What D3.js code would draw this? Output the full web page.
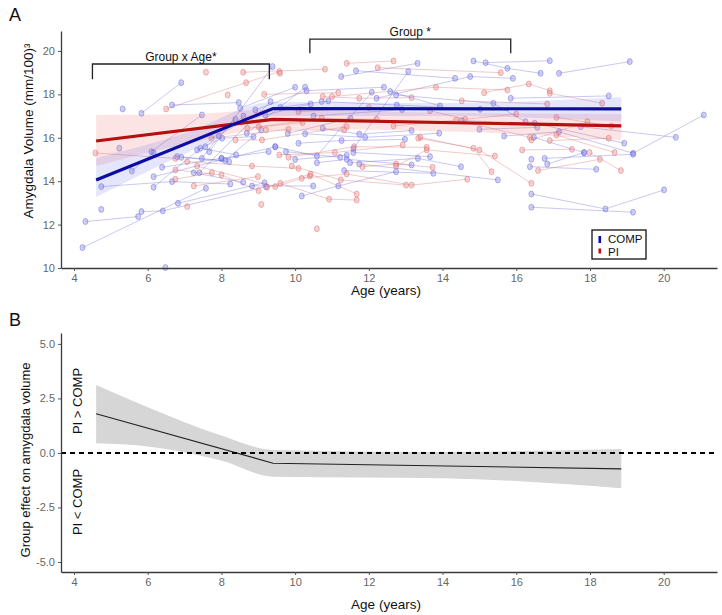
<!DOCTYPE html>
<html><head><meta charset="utf-8">
<script src="https://cdn.jsdelivr.net/npm/d3@7"></script>
<style>
body{margin:0;background:#fff;}
text{font-family:"Liberation Sans",Arial,sans-serif;}
</style></head>
<body><svg id="c" width="722" height="615"></svg>
<script>
// ---------- DATA ----------
const ageTicks = [4, 6, 8, 10, 12, 14, 16, 18, 20];
const volTicks = [10, 12, 14, 16, 18, 20];
const effTicks = [-5, -2.5, 0, 2.5, 5];
const effTickLabels = ["-5.0", "-2.5", "0.0", "2.5", "5.0"];
const groups = ["COMP", "PI"];

// individual trajectories [age, volume]
const compSubjects = [
  [[4.23,10.94],[7.58,13.67]],
  [[4.31,12.14],[5.74,12.37]],
  [[5.83,12.6],[6.41,12.63],[9.21,13.75]],
  [[4.74,13.75],[6.66,13.98],[8.24,13.87]],
  [[4.74,12.7]],
  [[6.48,10.02]],
  [[5.83,17.13],[6.91,18.54]],
  [[5.32,17.33]],
  [[5.23,15.52]],
  [[5.57,14.47],[6.16,15.32]],
  [[6.16,13.72],[8.38,16.85]],
  [[6.16,14.21],[9.46,15.59]],
  [[6.82,12.98],[9.17,13.93]],
  [[6.39,14.64],[8.0,15.05]],
  [[6.1,15.36],[7.47,17.05]],
  [[6.66,17.51],[8.47,17.62]],
  [[6.8,15.13],[8.1,14.95],[9.08,16.36]],
  [[6.91,15.1],[8.21,14.9]],
  [[7.25,14.39],[8.59,13.95]],
  [[7.4,14.39],[9.33,17.67]],
  [[7.34,15.44],[8.02,15.98],[8.87,16.05]],
  [[7.43,15.52],[8.4,15.21]],
  [[7.56,15.59],[8.6,17.0]],
  [[7.47,15.05],[7.93,16.08]],
  [[8.0,15.05],[9.28,15.36]],
  [[8.51,17.36],[10.0,18.33]],
  [[8.69,16.21],[10.27,18.33]],
  [[8.83,13.78],[10.49,13.78]],
  [[8.92,17.28],[10.31,18.17],[12.41,18.33]],
  [[9.19,17.05],[10.42,17.56]],
  [[7.67,15.36],[9.39,19.28]],
  [[9.46,15.59],[10.59,15.16],[12.08,18.1]],
  [[9.75,15.36],[11.22,15.1]],
  [[10.18,13.32],[11.17,13.78],[12.74,14.44]],
  [[10.59,14.85],[11.4,15.01],[13.16,14.75]],
  [[11.33,14.49],[13.75,14.36]],
  [[11.49,14.85],[13.33,15.05],[14.5,14.67]],
  [[11.58,15.32],[13.66,15.13]],
  [[11.74,14.79],[15.5,14.06]],
  [[10.72,17.67],[12.76,17.51],[15.02,17.31]],
  [[10.75,16.44],[11.74,16.17],[13.16,16.33]],
  [[10.09,15.75],[11.26,15.87],[12.98,15.93]],
  [[10.27,16.18],[11.9,16.02],[13.91,16.21]],
  [[11.25,18.82],[13.32,19.43]],
  [[11.58,15.5],[13.07,19.05]],
  [[11.65,19.09],[14.34,18.74]],
  [[12.21,17.82],[14.75,18.82],[15.91,18.74]],
  [[12.58,18.13],[13.93,17.47]],
  [[12.74,17.97],[15.38,17.59],[16.25,16.74]],
  [[14.84,19.54],[15.76,19.2],[16.66,18.97]],
  [[15.17,19.46],[16.91,19.55]],
  [[17.16,18.97],[19.08,19.51]],
  [[15.85,17.82],[18.51,17.93]],
  [[14.52,16.79],[16.5,16.67],[18.93,15.75]],
  [[15.0,16.39],[16.57,16.48]],
  [[15.67,16.08],[17.16,16.28],[19.17,15.29],[21.09,17.05]],
  [[17.75,16.51],[20.33,16.02]],
  [[16.48,16.02],[17.84,15.31]],
  [[16.84,14.79],[17.84,15.32]],
  [[16.37,14.67],[18.17,14.55]],
  [[16.41,15.01]],
  [[16.77,15.05],[19.17,15.24]],
  [[16.41,13.41],[18.42,12.72],[20.01,13.6]],
  [[16.41,12.8],[19.17,12.57]],
  [[9.6,17.4],[10.9,17.7]],
  [[9.8,16.2],[11.5,16.9]],
  [[10.5,17.0],[12.9,17.3]],
  [[10.0,15.0],[11.4,15.2]]
];
const piSubjects = [
  [[4.58,15.3],[6.75,15.05]],
  [[6.5,17.33],[8.67,18.54],[9.57,19.05]],
  [[7.58,19.02]],
  [[8.59,19.02],[10.81,19.16]],
  [[11.4,19.43],[12.67,19.54]],
  [[8.17,17.97]],
  [[9.16,18.0],[11.17,18.08]],
  [[6.75,14.52],[8.0,14.29],[9.01,13.56]],
  [[6.75,14.09],[7.74,14.39]],
  [[7.07,12.83]],
  [[7.07,14.9],[8.83,14.7],[10.09,14.59]],
  [[7.25,13.78],[8.99,14.21]],
  [[7.34,14.7],[9.46,13.75],[10.4,14.24]],
  [[9.08,12.93]],
  [[9.24,13.72],[10.42,14.33],[11.67,13.41]],
  [[9.6,13.9],[10.92,13.17],[11.67,13.13]],
  [[9.01,16.51],[10.72,16.9],[12.21,16.85]],
  [[9.21,16.36],[11.33,16.36]],
  [[7.73,15.98],[9.82,16.39]],
  [[8.38,15.9],[9.1,15.9],[11.4,16.51]],
  [[9.57,15.21],[11.08,15.32],[12.92,15.67]],
  [[9.82,15.1],[11.6,15.59],[13.57,15.56]],
  [[9.91,14.7],[11.24,14.06],[13.01,13.82]],
  [[10.18,14.13],[11.4,14.33],[13.16,13.82],[14.67,14.09]],
  [[10.59,11.81]],
  [[11.83,14.67],[12.74,14.79],[13.73,14.64]],
  [[12.74,14.7],[13.57,15.44],[15.42,15.16]],
  [[13.34,15.98],[14.84,15.52],[15.33,14.44]],
  [[13.4,16.02],[15.0,15.44],[16.41,13.9]],
  [[12.67,16.54],[14.37,16.82],[16.37,16.02]],
  [[13.66,17.25],[14.61,16.85],[16.0,17.1]],
  [[12.24,19.23],[15.58,19.0]],
  [[10.75,17.9],[11.74,17.82],[13.16,17.85]],
  [[11.0,17.9],[13.82,18.33],[15.76,18.2]],
  [[14.52,17.7],[16.84,17.56]],
  [[15.13,18.08],[16.34,18.48],[16.91,18.17]],
  [[16.91,18.05],[18.33,17.59]],
  [[16.41,15.9],[17.93,16.74]],
  [[16.91,15.87],[18.51,15.98]],
  [[17.09,16.13],[18.67,15.32]],
  [[16.16,15.44],[17.51,15.47]],
  [[16.59,14.49],[18.27,15.01]],
  [[17.99,15.32],[18.84,14.49]],
  [[9.59,18.97]],
  [[10.09,17.2],[12.0,17.4]],
  [[8.7,16.44],[10.2,16.7]],
  [[17.09,16.94],[18.58,16.54]]
];

// model fits
const fitAge = [4.6, 9.4, 18.85];
const compFit = [14.05, 17.35, 17.33];
const piFit = [15.85, 16.85, 16.55];
const ribAge = [4.6, 7.0, 9.4, 14.0, 18.85];
const compLo = [13.27, 15.25, 17.0, 17.0, 16.75];
const compHi = [15.07, 16.2, 17.65, 17.6, 17.88];
const piLo = [14.7, 15.7, 16.4, 16.3, 15.9];
const piHi = [17.05, 17.08, 17.3, 17.15, 17.1];

// group effect (panel B)
const effAge = [4.6, 9.4, 18.85];
const effFit = [1.8, -0.47, -0.73];
const effRibAge = [4.6, 6, 8, 9.4, 14, 18.85];
const effHi = [3.12, 2.1, 0.8, 0.14, 0.05, 0.18];
const effLo = [0.44, 0.3, -0.35, -1.09, -1.16, -1.62];

// annotations
const brackets = [
  {label: "Group x Age*", from: 4.5, to: 9.3, top: 19.4, bottom: 18.7},
  {label: "Group *", from: 10.4, to: 15.85, top: 20.55, bottom: 19.9}
];

// ---------- DRAW ----------
const svg = d3.select("#c");
const x = d3.scaleLinear().domain([3.647, 21.447]).range([61, 717]);
const yA = d3.scaleLinear().domain([10, 20.92]).range([268, 31]);
const yB = d3.scaleLinear().domain([-5.46, 5.5]).range([572, 333]);

const col = {
  COMP: {line: "rgba(95,95,215,0.34)", fill: "rgba(125,125,232,0.36)", stroke: "rgba(95,95,212,0.55)",
         fit: "#0c0ca2", rib: "rgba(100,100,235,0.17)"},
  PI:   {line: "rgba(215,100,100,0.34)", fill: "rgba(235,130,130,0.36)", stroke: "rgba(215,100,100,0.55)",
         fit: "#b50f0f", rib: "rgba(240,110,110,0.19)"}
};

function styleAxis(g) {
  g.select(".domain").attr("stroke", "#3a3a3a").attr("stroke-width", 1.3);
  g.selectAll(".tick line").attr("stroke", "#555").attr("stroke-width", 1);
  g.selectAll(".tick text").attr("fill", "#666").style("font-size", "11px")
    .style("font-family", '"Liberation Sans",Arial,sans-serif');
}

// ----- Panel A -----
const pA = svg.append("g");
const lineA = d3.line().x(d => x(d[0])).y(d => yA(d[1]));
[["COMP", compSubjects], ["PI", piSubjects]].forEach(([g, subs]) => {
  pA.append("g").selectAll("path").data(subs.filter(s => s.length > 1)).join("path")
    .attr("d", lineA).attr("fill", "none").attr("stroke", col[g].line).attr("stroke-width", 1);
});
[["COMP", compSubjects], ["PI", piSubjects]].forEach(([g, subs]) => {
  pA.append("g").selectAll("ellipse").data(subs.flat()).join("ellipse")
    .attr("cx", d => x(d[0])).attr("cy", d => yA(d[1])).attr("rx", 2.5).attr("ry", 3)
    .attr("fill", col[g].fill).attr("stroke", col[g].stroke).attr("stroke-width", 0.8);
});
const areaA = (lo, hi) => d3.area().curve(d3.curveMonotoneX)
  .x((d, i) => x(ribAge[i])).y0((d, i) => yA(lo[i])).y1((d, i) => yA(hi[i]))(ribAge);
pA.append("path").attr("d", areaA(piLo, piHi)).attr("fill", col.PI.rib);
pA.append("path").attr("d", areaA(compLo, compHi)).attr("fill", col.COMP.rib);
const fitLine = vals => d3.line().x((d, i) => x(fitAge[i])).y((d, i) => yA(vals[i]))(fitAge);
pA.append("path").attr("d", fitLine(piFit)).attr("fill", "none").attr("stroke", col.PI.fit).attr("stroke-width", 3.2);
pA.append("path").attr("d", fitLine(compFit)).attr("fill", "none").attr("stroke", col.COMP.fit).attr("stroke-width", 3.2);

// brackets
brackets.forEach(b => {
  pA.append("path")
    .attr("d", `M${x(b.from)},${yA(b.bottom)}V${yA(b.top)}H${x(b.to)}V${yA(b.bottom)}`)
    .attr("fill", "none").attr("stroke", "#222").attr("stroke-width", 1.3);
  pA.append("text").attr("x", (x(b.from) + x(b.to)) / 2).attr("y", yA(b.top) - 3)
    .attr("text-anchor", "middle").style("font-size", "12px").attr("fill", "#111").text(b.label);
});

// axes A
pA.append("g").attr("transform", "translate(0,268)")
  .call(d3.axisBottom(x).tickValues(ageTicks).tickSize(3).tickSizeOuter(0).tickPadding(3)).call(styleAxis);
pA.append("g").attr("transform", "translate(61,0)")
  .call(d3.axisLeft(yA).tickValues(volTicks).tickSize(3).tickSizeOuter(0).tickPadding(3)).call(styleAxis);

pA.append("text").attr("x", 386).attr("y", 295).attr("text-anchor", "middle")
  .style("font-size", "13.5px").attr("fill", "#111").text("Age (years)");
pA.append("text").attr("transform", "translate(33,131) rotate(-90)").attr("text-anchor", "middle")
  .style("font-size", "13.5px").attr("fill", "#111").text("Amygdala Volume (mm/100)³");
svg.append("text").attr("x", 9).attr("y", 21).style("font-size", "18px").attr("fill", "#111").text("A");

// legend
const lg = pA.append("g");
lg.append("rect").attr("x", 592).attr("y", 230).attr("width", 54).attr("height", 29)
  .attr("fill", "#fff").attr("stroke", "#111").attr("stroke-width", 1.3);
groups.forEach((g, i) => {
  lg.append("rect").attr("x", 598.5).attr("y", 236 + i * 12.5).attr("width", 2.6).attr("height", i === 0 ? 7 : 5)
    .attr("fill", col[g].fit);
  lg.append("text").attr("x", 608).attr("y", 243 + i * 12.5).style("font-size", "11.5px").attr("fill", "#111").text(g);
});

// ----- Panel B -----
const pB = svg.append("g");
pB.append("path")
  .attr("d", d3.area().curve(d3.curveMonotoneX)
    .x((d, i) => x(effRibAge[i])).y0((d, i) => yB(effLo[i])).y1((d, i) => yB(effHi[i]))(effRibAge))
  .attr("fill", "#d6d6d6");
pB.append("path")
  .attr("d", d3.line().x((d, i) => x(effAge[i])).y((d, i) => yB(effFit[i]))(effAge))
  .attr("fill", "none").attr("stroke", "#222").attr("stroke-width", 1.1);
pB.append("line").attr("x1", 61).attr("x2", 717).attr("y1", yB(0)).attr("y2", yB(0))
  .attr("stroke", "#000").attr("stroke-width", 2).attr("stroke-dasharray", "5,4");

pB.append("g").attr("transform", "translate(0,572)")
  .call(d3.axisBottom(x).tickValues(ageTicks).tickSize(3).tickSizeOuter(0).tickPadding(3)).call(styleAxis);
pB.append("g").attr("transform", "translate(61,0)")
  .call(d3.axisLeft(yB).tickValues(effTicks).tickFormat((d, i) => effTickLabels[i]).tickSize(3).tickSizeOuter(0).tickPadding(3))
  .call(styleAxis);

pB.append("text").attr("x", 386).attr("y", 609).attr("text-anchor", "middle")
  .style("font-size", "13.5px").attr("fill", "#111").text("Age (years)");
pB.append("text").attr("transform", "translate(30,460) rotate(-90)").attr("text-anchor", "middle")
  .style("font-size", "13px").attr("fill", "#111").text("Group effect on amygdala volume");
pB.append("text").attr("transform", "translate(82,401) rotate(-90)").attr("text-anchor", "middle")
  .style("font-size", "13px").attr("fill", "#111").text("PI > COMP");
pB.append("text").attr("transform", "translate(82,502) rotate(-90)").attr("text-anchor", "middle")
  .style("font-size", "13px").attr("fill", "#111").text("PI < COMP");
svg.append("text").attr("x", 9).attr("y", 326).style("font-size", "18px").attr("fill", "#111").text("B");
</script></body></html>
